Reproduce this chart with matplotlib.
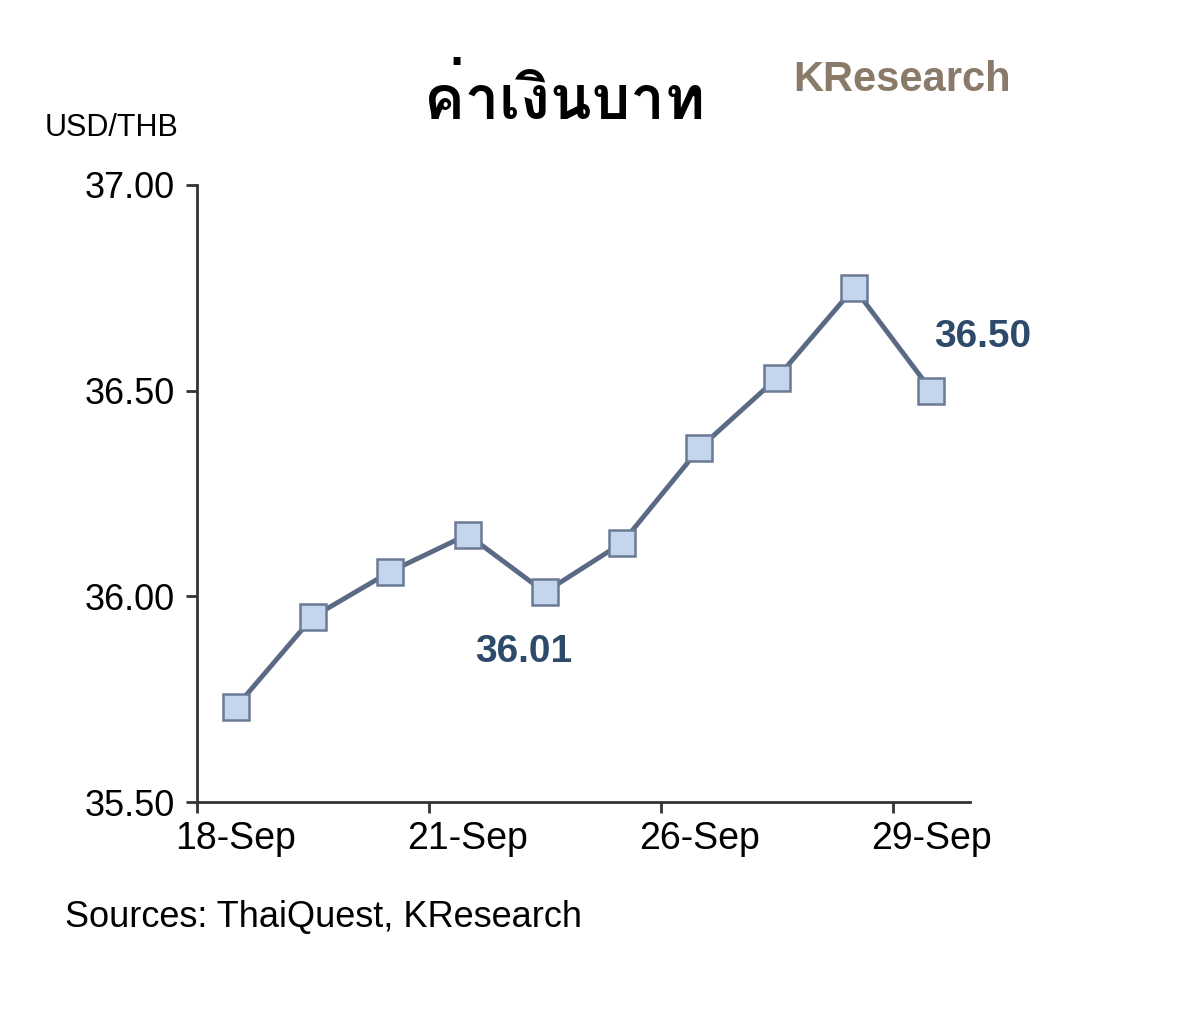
import matplotlib
matplotlib.use("Agg")
import matplotlib.pyplot as plt
from matplotlib import font_manager
from fontTools.ttLib import TTFont

dates = ["18-Sep","19-Sep","20-Sep","21-Sep","22-Sep","25-Sep","26-Sep","27-Sep","28-Sep","29-Sep"]
values = [35.73, 35.95, 36.06, 36.15, 36.01, 36.13, 36.36, 36.53, 36.75, 36.50]
label_idx = [0, 3, 6, 9]
tick_labels = ["18-Sep", "21-Sep", "26-Sep", "29-Sep"]

thai_fams = []
for f in font_manager.fontManager.ttflist:
    try:
        t = TTFont(f.fname, fontNumber=0, lazy=True)
        if 0x0E04 in t.getBestCmap() and f.name not in thai_fams:
            thai_fams.append(f.name)
    except Exception:
        pass

plt.rcParams['font.family'] = ['Liberation Sans', 'DejaVu Sans']

fig = plt.figure(figsize=(12, 10.27), dpi=100)
ax = fig.add_axes([197/1200, 1-802/1027, (970-197)/1200, (802-185)/1027])
x = list(range(len(values)))
ax.plot(x, values, color="#5a6a85", lw=3.5, marker="s", ms=19,
        mfc="#c5d5ee", mec="#6a7a95", mew=1.8)
ax.set_xlim(-0.5, 9.5)
ax.set_ylim(35.5, 37.0)
ax.set_yticks([35.5, 36.0, 36.5, 37.0])
ax.set_yticklabels([f"{v:.2f}" for v in [35.5, 36.0, 36.5, 37.0]], fontsize=26)
ax.set_xticks([-0.5, 2.5, 5.5, 8.5])
ax.set_xticklabels([])
for i, t in zip(label_idx, tick_labels):
    ax.text(i, 35.5 - 0.045, t, ha="center", va="top", fontsize=27)
ax.tick_params(axis="both", length=8, width=2, color="#333333", direction="out")
ax.tick_params(axis="y", pad=8)
for s in ["top", "right"]:
    ax.spines[s].set_visible(False)
for s in ["left", "bottom"]:
    ax.spines[s].set_linewidth(2)
    ax.spines[s].set_color("#333333")

ax.annotate(f"{values[4]:.2f}", (4, values[4]), xytext=(-15, -30), textcoords="offset points",
            ha="center", va="top", fontsize=28, fontweight="bold", color="#2e4a6a")
ax.annotate(f"{values[9]:.2f}", (9, values[9]), xytext=(37, 26), textcoords="offset points",
            ha="center", va="bottom", fontsize=28, fontweight="bold", color="#2e4a6a")

fig.text(565/1200, 1-100/1027, "ค่าเงินบาท", ha="center", va="center", fontsize=44,
         fontweight="bold", family=thai_fams[:1] + ["DejaVu Sans"])
fig.text(45/1200, 1-128/1027, "USD/THB", ha="left", va="center", fontsize=22)
fig.text(793/1200, 1-80/1027, "KResearch", ha="left", va="center", fontsize=30,
         fontweight="bold", color="#8a7a6a")
fig.text(65/1200, 1-918/1027, "Sources: ThaiQuest, KResearch", ha="left", va="center", fontsize=26)

fig.savefig("out.png", dpi=100)
